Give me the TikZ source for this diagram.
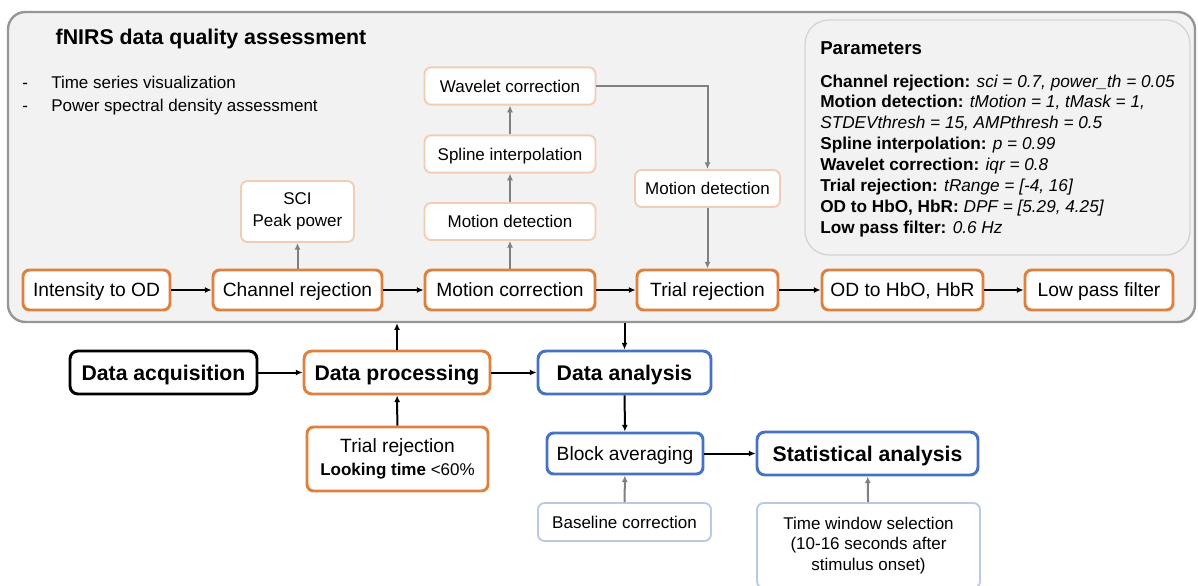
\documentclass[tikz,border=0pt]{standalone}
\usepackage{fontspec}
\setmainfont{Liberation Sans}
\usetikzlibrary{arrows.meta}

\definecolor{procorange}{RGB}{222,128,62}
\definecolor{paleorange}{RGB}{243,204,180}
\definecolor{anablue}{RGB}{68,114,196}
\definecolor{paleblue}{RGB}{184,202,232}
\definecolor{panelgray}{RGB}{242,242,242}
\definecolor{panelline}{RGB}{150,150,150}
\definecolor{paramline}{RGB}{212,212,212}
\definecolor{arrowgray}{RGB}{128,128,128}

\tikzset{
    stepbox/.style={draw=procorange, line width=2.2pt, rounded corners=5pt, fill=white,
        inner sep=0pt, minimum height=30pt, text height=12pt, text depth=1.7pt,
        font=\fontsize{14.4}{17}\selectfont},
    subbox/.style={draw=paleorange, line width=1.4pt, rounded corners=5pt, fill=white,
        inner sep=0pt, minimum height=28pt, align=center, font=\fontsize{12.75}{16.2}\selectfont},
    oneline/.style={text height=10.8pt, text depth=1.7pt},
    stagebox/.style={line width=2.2pt, rounded corners=6pt, fill=white,
        inner sep=0pt, minimum height=32.25pt, text height=13.2pt, text depth=1.8pt,
        font=\bfseries\fontsize{15.9}{19}\selectfont},
    flow/.style={-{Latex[length=5pt,width=4.5pt]}, line width=1.5pt},
    subflow/.style={flow, draw=arrowgray}
}

\begin{document}
\begin{tikzpicture}[x=0.75pt, y=-0.75pt]

    \useasboundingbox (0,0) rectangle (1198,585);

    % quality assessment panel
    \node[draw=panelline, fill=panelgray, line width=1.8pt, rounded corners=13pt,
        minimum width=890.25pt, minimum height=232.5pt, inner sep=0pt] (qa) at (601.5,167) {};
    \node[anchor=base west, font=\bfseries\fontsize{16}{19}\selectfont] (title) at (51,45) {fNIRS data quality assessment};
    \node[anchor=base west, inner sep=0pt, font=\fontsize{12.75}{15}\selectfont] (bullet1) at (22,89) {\makebox[21.75pt][l]{-}Time series visualization};
    \node[anchor=base west, inner sep=0pt, font=\fontsize{12.75}{15}\selectfont] (bullet2) at (22,111) {\makebox[21.75pt][l]{-}Power spectral density assessment};

    % parameters
    \node[draw=paramline, fill=panelgray, line width=1pt, rounded corners=18pt,
        minimum width=288.75pt, minimum height=176.25pt, inner sep=0pt] (parbox) at (997.5,137.5) {};
    \node[anchor=base west, inner sep=0pt, font=\bfseries\fontsize{14}{17}\selectfont] (partitle) at (820,55) {Parameters};
    \node[anchor=north west, inner sep=0pt, align=left, font=\fontsize{12.9}{15.64}\selectfont] (params) at (820,74.3) {%
        \textbf{Channel rejection:} \textit{sci = 0.7, power\_th = 0.05}\\
        \textbf{Motion detection:} \textit{tMotion = 1, tMask = 1,}\\
        \textit{STDEVthresh = 15, AMPthresh = 0.5}\\
        \textbf{Spline interpolation:} \textit{p = 0.99}\\
        \textbf{Wavelet correction:} \textit{iqr = 0.8}\\
        \textbf{Trial rejection:} \textit{tRange = [-4, 16]}\\
        \textbf{OD to HbO, HbR:} \textit{DPF = [5.29, 4.25]}\\
        \textbf{Low pass filter:} \textit{0.6 Hz}};

    % processing pipeline
    \node[stepbox, minimum width=110.25pt] (intod) at (96.5,290) {Intensity to OD};
    \node[stepbox, minimum width=126.75pt] (chrej) at (297.5,290) {Channel rejection};
    \node[stepbox, minimum width=127.5pt] (motcor) at (510,290) {Motion correction};
    \node[stepbox, minimum width=105.75pt] (trirej) at (707.5,290) {Trial rejection};
    \node[stepbox, minimum width=120.75pt] (odhb) at (902.5,290) {OD to HbO, HbR};
    \node[stepbox, minimum width=111pt] (lowpass) at (1099,290) {Low pass filter};

    \node[subbox, minimum width=84.75pt, minimum height=45.75pt] (sci) at (297.5,211.5) {SCI\\Peak power};
    \node[subbox, oneline, minimum width=128.25pt, minimum height=27.75pt] (motdet) at (510,221.5) {Motion detection};
    \node[subbox, oneline, minimum width=128.25pt] (spline) at (510,154) {Spline interpolation};
    \node[subbox, oneline, minimum width=128.25pt] (wavelet) at (510,86) {Wavelet correction};
    \node[subbox, oneline, minimum width=108.75pt, minimum height=27.75pt] (motdet2) at (707.5,188.5) {Motion detection};

    \draw[flow] (intod) -- (chrej);
    \draw[flow] (chrej) -- (motcor);
    \draw[flow] (motcor) -- (trirej);
    \draw[flow] (trirej) -- (odhb);
    \draw[flow] (odhb) -- (lowpass);

    \draw[subflow] (chrej) -- (sci);
    \draw[subflow] (motcor) -- (motdet);
    \draw[subflow] (motdet) -- (spline);
    \draw[subflow] (spline) -- (wavelet);
    \draw[subflow] (wavelet.east) -| (motdet2.north);
    \draw[subflow] (motdet2) -- (trirej);

    % overall workflow
    \node[stagebox, draw=black, minimum width=140.25pt] (acq) at (163.5,372.5) {Data acquisition};
    \node[stagebox, draw=procorange, minimum width=139.5pt] (proc) at (397,372.5) {Data processing};
    \node[stagebox, draw=anablue, minimum width=129.75pt] (ana) at (624.5,372.5) {Data analysis};

    \node[draw=procorange, line width=2.2pt, rounded corners=5pt, fill=white, inner sep=0pt,
        minimum width=135.75pt, minimum height=48pt, align=center,
        font=\fontsize{14.4}{17.25}\selectfont] (trirej2) at (397.5,459)
        {Trial rejection\\{\fontsize{12.75}{17.25}\selectfont\textbf{Looking time} <60\%}};
    \node[stepbox, draw=anablue, minimum width=117pt, minimum height=30.75pt] (block) at (625,453.5) {Block averaging};
    \node[stagebox, draw=anablue, minimum width=165.75pt] (stat) at (867.5,453.5) {Statistical analysis};
    \node[subbox, oneline, draw=paleblue, minimum width=129.75pt, minimum height=28.5pt] (base) at (624.5,522) {Baseline correction};
    \node[subbox, draw=paleblue, minimum width=167.25pt, minimum height=63.75pt,
        font=\fontsize{12.75}{15.4}\selectfont] (twin) at (868.5,545.5)
        {Time window selection\\(10-16 seconds after\\stimulus onset)};

    \draw[flow] (acq) -- (proc);
    \draw[flow] (proc) -- (ana);
    \draw[flow] (proc.north) -- (proc.north |- qa.south);
    \draw[flow] (ana.north |- qa.south) -- (ana.north);
    \draw[flow] (trirej2) -- (proc);
    \draw[flow] (ana) -- (block);
    \draw[flow] (block) -- (stat);
    \draw[subflow] (base) -- (block);
    \draw[subflow] (twin) -- (stat);

\end{tikzpicture}
\end{document}
